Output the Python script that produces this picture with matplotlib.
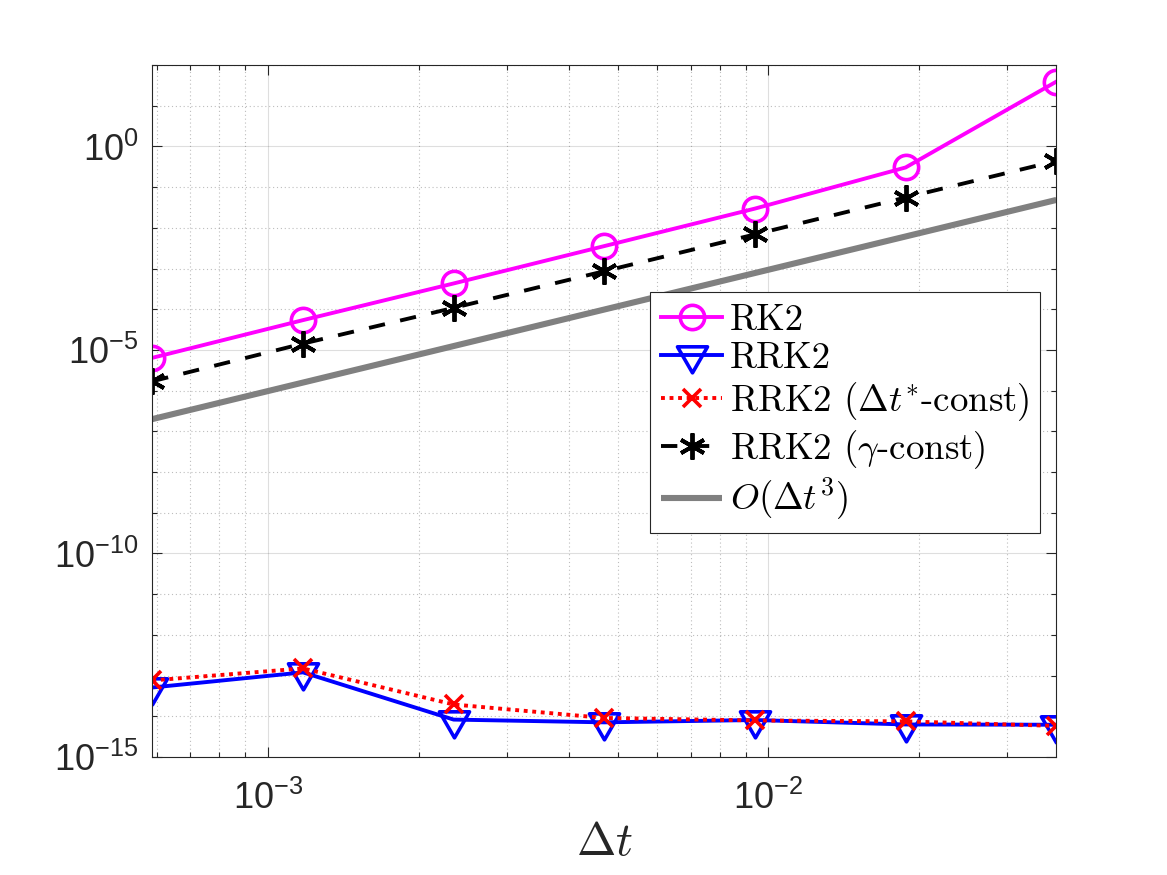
import numpy as np
import matplotlib
matplotlib.use('Agg')
import matplotlib.pyplot as plt
from matplotlib.path import Path
from matplotlib.markers import MarkerStyle
from matplotlib.ticker import FixedLocator, FuncFormatter, NullFormatter, LogLocator

# ---------------- data ----------------
dt = [5.875e-4, 1.175e-3, 2.35e-3, 4.7e-3, 9.4e-3, 1.88e-2, 3.76e-2]
err_rk2 = [6.4e-6, 5.4e-5, 4.3e-4, 3.56e-3, 2.97e-2, 3.04e-1, 3.9e1]
err_rrk2 = [5.1e-14, 1.2e-13, 8.3e-15, 7.1e-15, 8.1e-15, 6.3e-15, 6.2e-15]
err_rrk2_dtconst = [7.6e-14, 1.5e-13, 1.95e-14, 9.1e-15, 7.9e-15, 7.5e-15, 5.8e-15]
err_rrk2_gconst = [1.7e-6, 1.43e-5, 1.08e-4, 8.6e-4, 6.9e-3, 5.55e-2, 4.4e-1]
ref_dt = [5.875e-4, 3.76e-2]
ref_err = [2.0e-7, 4.84e-2]

labels = ['RK2', 'RRK2', r'RRK2 ($\Delta t^{*}$-const)',
          r'RRK2 ($\gamma$-const)', r'$O(\Delta t^3)$']
ytick_vals = [1e-15, 1e-10, 1e-5, 1e0]
xtick_vals = [1e-3, 1e-2]

# ---------------- style ----------------
plt.rcParams['font.family'] = ['Liberation Sans', 'DejaVu Sans']
plt.rcParams['mathtext.fontset'] = 'cm'
AX = '#262626'

W, H = 1167, 875
fig = plt.figure(figsize=(W / 100, H / 100), dpi=100)
fig.patch.set_facecolor('white')
ax = fig.add_axes([152.3 / W, 1 - 757 / H, (1056.3 - 152.3) / W, (757 - 65) / H])

# MATLAB-like triangle-down marker centred on its centroid
h = np.sqrt(3)
tri = Path([(-1, h / 3), (1, h / 3), (0, -2 * h / 3), (-1, h / 3)],
           [Path.MOVETO, Path.LINETO, Path.LINETO, Path.CLOSEPOLY])
tri_marker = MarkerStyle(tri, joinstyle='miter')

lw = 2.8
mew = 2.6
l1, = ax.plot(dt, err_rk2, '-', color=(1, 0, 1), lw=lw, marker='o', ms=17.5,
              mfc='none', mec=(1, 0, 1), mew=mew)
l2, = ax.plot(dt, err_rrk2, '-', color=(0, 0, 1), lw=lw, marker=tri_marker,
              ms=25, mfc='none', mec=(0, 0, 1), mew=mew)
l3, = ax.plot(dt, err_rrk2_dtconst, color=(1, 0, 0), lw=lw,
              linestyle=(0, (1.0, 1.2)), marker='x', ms=13, mec=(1, 0, 0), mew=mew)
l4, = ax.plot(dt, err_rrk2_gconst, color='k', lw=lw, linestyle=(0, (4.2, 4.0)),
              marker=(6, 2, 0), ms=19, mec='k', mew=2.8)
l5, = ax.plot(ref_dt, ref_err, '-', color=(0.5, 0.5, 0.5), lw=4.4,
              solid_capstyle='butt')

ax.set_xscale('log')
ax.set_yscale('log')
ax.set_xlim(ref_dt[0], ref_dt[1])
ax.set_ylim(1e-15, 1e2)

ax.xaxis.set_major_locator(FixedLocator(xtick_vals))
ax.xaxis.set_minor_locator(LogLocator(base=10, subs=np.arange(2, 10)))
ax.xaxis.set_minor_formatter(NullFormatter())
ax.yaxis.set_major_locator(FixedLocator(ytick_vals))
ax.yaxis.set_minor_locator(FixedLocator([10.0 ** k for k in range(-15, 3)]))
ax.yaxis.set_minor_formatter(NullFormatter())

fmt = FuncFormatter(lambda v, p: r'$\mathregular{10^{%d}}$' % int(round(np.log10(v))))
ax.xaxis.set_major_formatter(fmt)
ax.yaxis.set_major_formatter(fmt)

ax.tick_params(which='both', direction='in', top=True, right=True,
               colors=AX, width=0.8, labelsize=26)
ax.tick_params(which='major', length=7)
ax.tick_params(which='minor', length=3.5)
ax.tick_params(axis='y', which='major', pad=10)
ax.tick_params(axis='x', which='major', pad=17)

for s in ax.spines.values():
    s.set_color(AX)
    s.set_linewidth(0.8)

ax.grid(True, which='major', color=AX, alpha=0.15, lw=0.8, ls='-')
ax.grid(True, which='minor', color=AX, alpha=0.3, lw=0.8, ls=(0, (1, 2.5)))
ax.set_axisbelow(True)

ax.set_xlabel(r'$\Delta t$', fontsize=34, color=AX, labelpad=3)

leg = ax.legend([l1, l2, l3, l4, l5], labels, loc='upper right',
                bbox_to_anchor=(1040 / W, 1 - 292.3 / H),
                bbox_transform=fig.transFigure, borderaxespad=0,
                prop={'family': 'cmr10', 'size': 26.5}, handlelength=1.66,
                handletextpad=0.2, labelspacing=0.14, borderpad=0.3,
                fancybox=False, framealpha=1, edgecolor=AX, numpoints=1)
leg.get_frame().set_linewidth(0.8)

fig.savefig('out.png', dpi=100, facecolor='white')
